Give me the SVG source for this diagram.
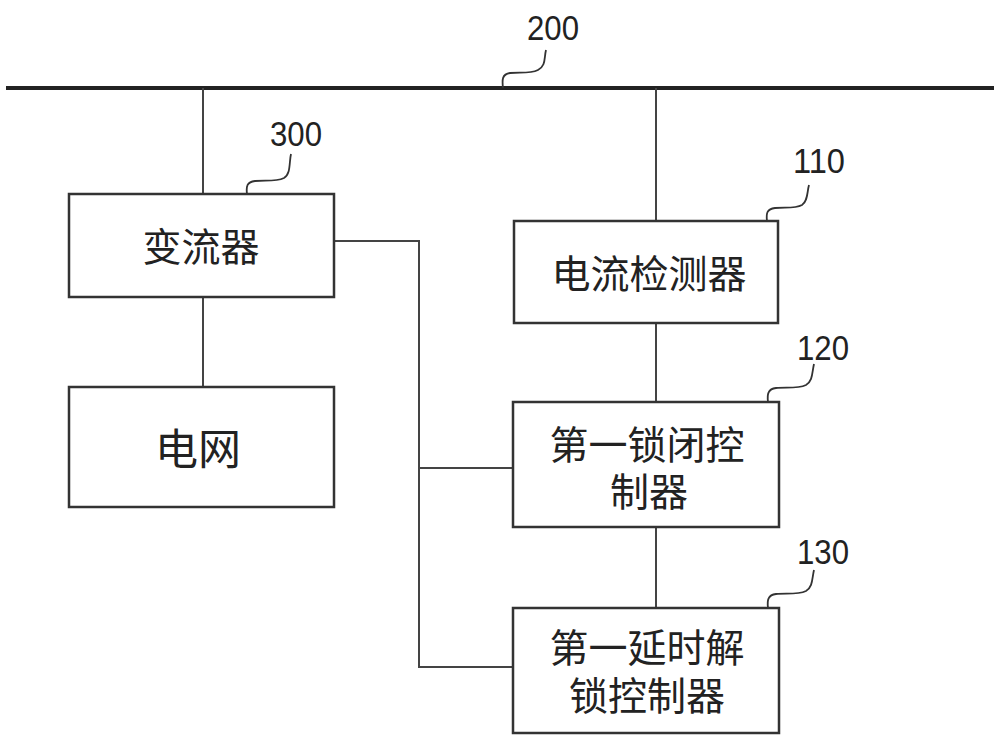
<svg xmlns="http://www.w3.org/2000/svg" width="1000" height="747" viewBox="0 0 1000 747">
<style>
.box{fill:#fff;stroke:#333;stroke-width:2.5}
.wire{fill:none;stroke:#444;stroke-width:2}
.lead{fill:none;stroke:#333;stroke-width:1.8}
.cn{font-family:"Noto Sans CJK SC","Liberation Sans",sans-serif;font-size:39px;fill:#222;text-anchor:middle;dominant-baseline:central}
.num{font-family:"Liberation Sans",sans-serif;font-size:35px;fill:#222;text-anchor:middle}
</style>
<rect width="1000" height="747" fill="#fff"/>
<g id="connectors">
  <line x1="6" y1="88" x2="994" y2="88" stroke="#222" stroke-width="4"/>
  <line class="wire" x1="203" y1="88" x2="203" y2="194"/>
  <line class="wire" x1="656" y1="88" x2="656" y2="221"/>
  <line class="wire" x1="203" y1="297" x2="203" y2="387"/>
  <polyline class="wire" points="334,241 419,241 419,667 513,667"/>
  <line class="wire" x1="419" y1="468" x2="513" y2="468"/>
  <line class="wire" x1="656" y1="323" x2="656" y2="402"/>
  <line class="wire" x1="656" y1="527" x2="656" y2="608"/>
</g>
<g id="bus200">
  <path class="lead" d="M503,88 C502,80 502,74 510,73 C520,72 530,74 538,70 C546,66 544,58 546,50"/>
  <text class="num" x="553" y="40" textLength="52" lengthAdjust="spacingAndGlyphs">200</text>
</g>
<g id="n300">
  <rect class="box" x="69" y="194" width="265" height="103"/>
  <text class="cn" x="201" y="244">变流器</text>
  <path class="lead" d="M247,194 C246,186 247,182 255,181 C265,180 276,182 284,178 C291,174 289,162 291,154"/>
  <text class="num" x="296" y="146" textLength="52" lengthAdjust="spacingAndGlyphs">300</text>
</g>
<g id="grid">
  <rect class="box" x="69" y="387" width="265" height="120"/>
  <text class="cn" x="198" y="446" style="font-size:43px">电网</text>
</g>
<g id="n110">
  <rect class="box" x="514" y="221" width="264" height="102"/>
  <text class="cn" x="649" y="271">电流检测器</text>
  <path class="lead" d="M767,221 C766,213 767,209 775,208 C785,207 795,209 802,205 C808,201 807,192 809,185"/>
  <text class="num" x="819" y="173" textLength="52" lengthAdjust="spacingAndGlyphs">110</text>
</g>
<g id="n120">
  <rect class="box" x="513" y="402" width="266" height="125"/>
  <text class="cn"><tspan x="647" y="442">第一锁闭控</tspan><tspan x="649" y="489">制器</tspan></text>
  <path class="lead" d="M768,402 C767,394 768,389 776,388 C786,387 798,389 806,385 C813,381 812,372 814,364"/>
  <text class="num" x="823" y="360" textLength="52" lengthAdjust="spacingAndGlyphs">120</text>
</g>
<g id="n130">
  <rect class="box" x="513" y="608" width="266" height="125"/>
  <text class="cn"><tspan x="647" y="645">第一延时解</tspan><tspan x="647" y="693">锁控制器</tspan></text>
  <path class="lead" d="M768,608 C767,600 768,595 776,594 C786,593 798,595 806,591 C813,587 812,578 814,570"/>
  <text class="num" x="823" y="564" textLength="52" lengthAdjust="spacingAndGlyphs">130</text>
</g>
</svg>
